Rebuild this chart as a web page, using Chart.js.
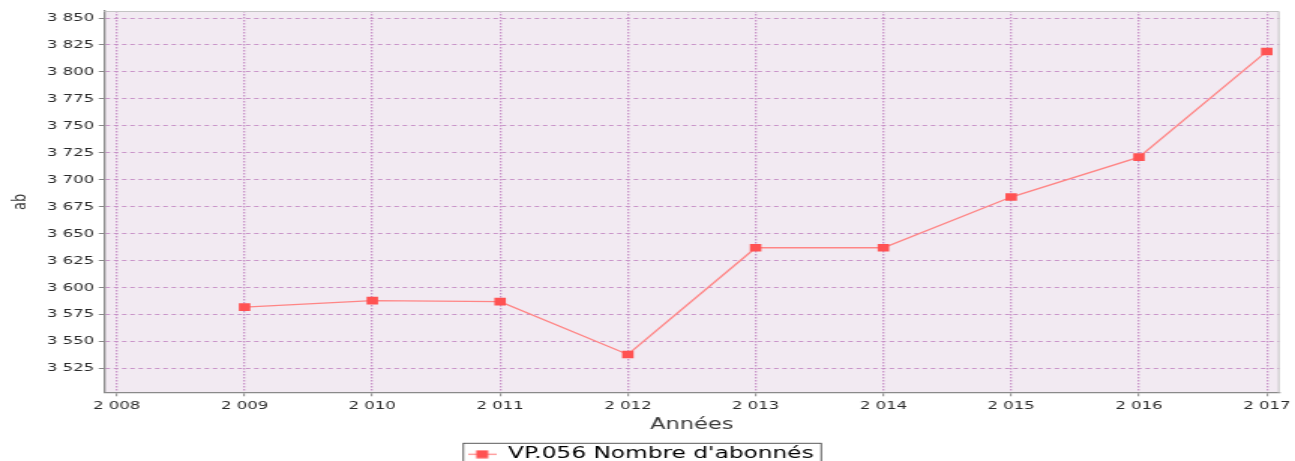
<!DOCTYPE html>
<html>
<head>
<meta charset="utf-8">
<script src="https://cdn.jsdelivr.net/npm/chart.js@4/dist/chart.umd.min.js"></script>
<style>
  html, body { margin: 0; padding: 0; background: #fff; overflow: hidden; }
  #frame { width: 1295px; height: 461px; overflow: hidden; }
  /* the reference is a narrow chart stretched sideways, so draw it narrow and stretch it */
  #wrap { width: 863px; height: 472px; transform: scaleX(1.5006); transform-origin: 0 0; }
</style>
</head>
<body>
<div id="frame"><div id="wrap"><canvas id="graph"></canvas></div></div>
<script>
var years = [2009, 2010, 2011, 2012, 2013, 2014, 2015, 2016, 2017];
var abonnes = [3582, 3588, 3587, 3538, 3637, 3637, 3684, 3721, 3819];
var xTicks = [2008, 2009, 2010, 2011, 2012, 2013, 2014, 2015, 2016, 2017];
var yTicks = [3525, 3550, 3575, 3600, 3625, 3650, 3675, 3700, 3725, 3750, 3775, 3800, 3825, 3850];
var seriesLabel = "VP.056 Nombre d'abonnés";

var lineColor = '#ff8585';
var markColor = '#ff5252';
var gridColor = 'rgba(196, 140, 196, 0.9)';

function spaced(v) {
  return String(v).replace(/\B(?=(\d{3})+(?!\d))/g, ' ');
}

// legend marker: a short line with a small square on it
var legendMark = document.createElement('canvas');
legendMark.width = 19;
legendMark.height = 9;
var lm = legendMark.getContext('2d');
lm.strokeStyle = lineColor;
lm.lineWidth = 1.2;
lm.beginPath();
lm.moveTo(0, 4.5);
lm.lineTo(19, 4.5);
lm.stroke();
lm.fillStyle = markColor;
lm.fillRect(5.5, 0.5, 8, 8);

var plotFrame = {
  id: 'plotFrame',
  beforeDraw: function(chart) {
    var a = chart.chartArea, ctx = chart.ctx;
    ctx.save();
    ctx.fillStyle = '#f2eaf2';
    ctx.fillRect(a.left, a.top, a.right - a.left, a.bottom - a.top);
    ctx.restore();
  },
  afterDraw: function(chart) {
    var a = chart.chartArea, ctx = chart.ctx;
    ctx.save();
    ctx.strokeStyle = '#c4c4c4';
    ctx.lineWidth = 1;
    ctx.beginPath();
    ctx.moveTo(a.left, a.top + 0.5);
    ctx.lineTo(a.right - 0.5, a.top + 0.5);
    ctx.lineTo(a.right - 0.5, a.bottom);
    ctx.stroke();
    // box round the legend
    var hb = chart.legend.legendHitBoxes[0];
    if (hb) {
      ctx.strokeStyle = '#333';
      ctx.lineWidth = 0.8;
      ctx.strokeRect(hb.left - 3, hb.top + hb.height / 2 - 11, hb.width + 8, 40);
    }
    ctx.restore();
  }
};

var context = document.querySelector('#graph').getContext('2d');
var chart = new Chart(context, {
  type: 'line',
  data: {
    datasets: [{
      label: seriesLabel,
      data: years.map(function(y, i) { return { x: y, y: abonnes[i] }; }),
      borderColor: lineColor,
      borderWidth: 1.3,
      backgroundColor: markColor,
      pointStyle: 'rect',
      pointRadius: 5.4,
      pointBorderWidth: 0,
      pointBackgroundColor: markColor,
      fill: false,
      tension: 0
    }]
  },
  options: {
    responsive: true,
    maintainAspectRatio: false,
    animation: false,
    layout: { padding: { top: 11, right: 9, left: 0, bottom: 0 } },
    plugins: {
      tooltip: { enabled: false },
      legend: {
        position: 'bottom',
        labels: {
          usePointStyle: true,
          pointStyleWidth: 19,
          padding: 6,
          color: '#222',
          font: { family: 'DejaVu Sans', size: 15.5 },
          generateLabels: function(c) {
            return [{ text: seriesLabel, pointStyle: legendMark, fillStyle: markColor, strokeStyle: markColor, lineWidth: 0, datasetIndex: 0 }];
          }
        }
      }
    },
    scales: {
      x: {
        type: 'linear',
        min: 2007.9,
        max: 2017.1,
        afterBuildTicks: function(scale) {
          scale.ticks = xTicks.map(function(v) { return { value: v }; });
        },
        ticks: {
          color: '#2a2a2a',
          font: { family: 'DejaVu Sans', size: 11 },
          padding: 3,
          maxRotation: 0,
          callback: function(v) { return spaced(v); }
        },
        grid: {
          color: gridColor,
          lineWidth: 1.3,
          tickLength: 3.5,
          tickColor: '#888',
          tickWidth: 1
        },
        border: { color: '#8a8a8a', width: 1.3, dash: [1.5, 1.5] },
        title: {
          display: true,
          text: 'Années',
          color: '#3a3a3a',
          font: { family: 'DejaVu Sans', size: 15 },
          padding: { top: 1, bottom: 6 }
        }
      },
      y: {
        min: 3502.5,
        max: 3856.5,
        afterBuildTicks: function(scale) {
          scale.ticks = yTicks.map(function(v) { return { value: v }; });
        },
        afterFit: function(scale) {
          scale.width = 69.3;
        },
        ticks: {
          color: '#2a2a2a',
          font: { family: 'DejaVu Sans', size: 11 },
          padding: 3,
          callback: function(v) { return spaced(v); }
        },
        grid: {
          color: gridColor,
          lineWidth: 1,
          tickLength: 3.5,
          tickColor: '#888',
          tickWidth: 1
        },
        border: { color: '#8a8a8a', width: 1.3, dash: [3, 2.5] },
        title: {
          display: true,
          text: 'ab',
          color: '#3a3a3a',
          font: { family: 'DejaVu Sans', size: 13 },
          padding: { top: 6, bottom: 0 }
        }
      }
    }
  },
  plugins: [plotFrame]
});
</script>
</body>
</html>
